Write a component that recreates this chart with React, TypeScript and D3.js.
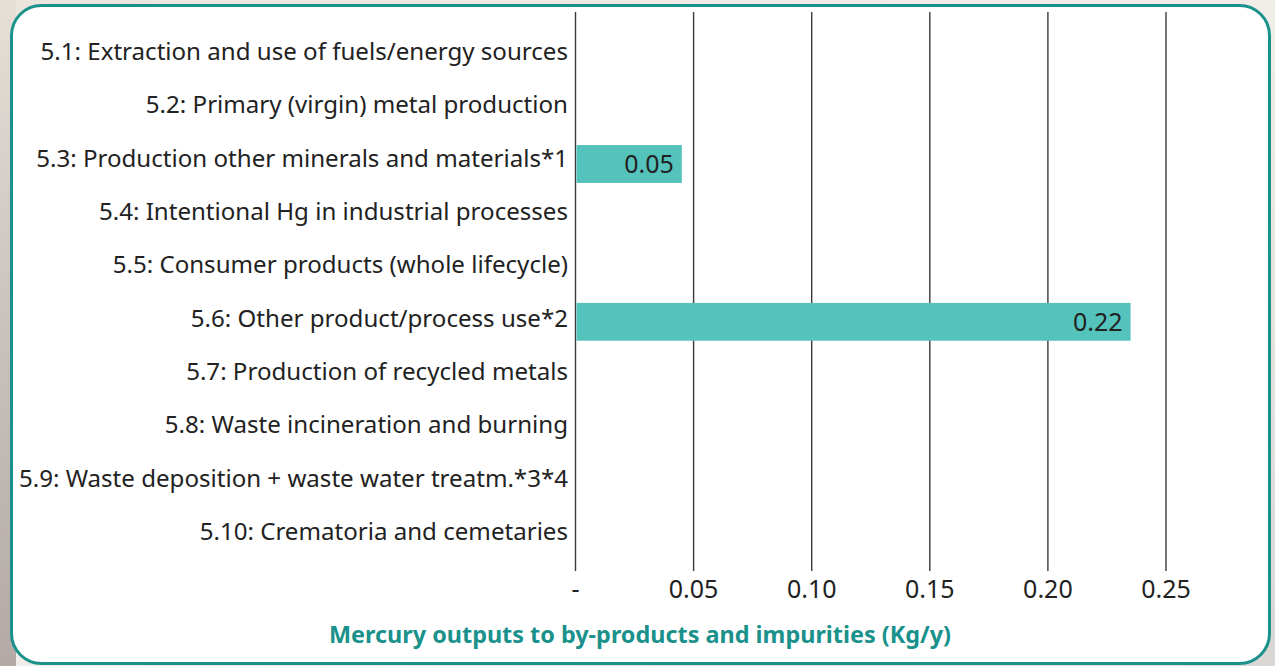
import * as d3 from "d3";

const categories = [
  "5.1: Extraction and use of fuels/energy sources",
  "5.2: Primary (virgin) metal production",
  "5.3: Production other minerals and materials*1",
  "5.4: Intentional Hg in industrial processes",
  "5.5: Consumer products (whole lifecycle)",
  "5.6: Other product/process use*2",
  "5.7: Production of recycled metals",
  "5.8: Waste incineration and burning",
  "5.9: Waste deposition + waste water treatm.*3*4",
  "5.10: Crematoria and cemetaries",
];
const values = [0, 0, 0.045, 0, 0, 0.235, 0, 0, 0, 0];
const valueLabels = ["", "", "0.05", "", "", "0.22", "", "", "", ""];
const ticks = [0, 0.05, 0.1, 0.15, 0.2, 0.25];
const tickLabels = ["-", "0.05", "0.10", "0.15", "0.20", "0.25"];
const axisTitle = "Mercury outputs to by-products and impurities (Kg/y)";

const WIDTH = 1275;
const HEIGHT = 666;
const FONT = "'Noto Sans', 'Open Sans', sans-serif";
const TEAL = "#1a918b";
const BAR = "#53c3bb";
const INK = "#222222";

export default function App() {
  const x = d3.scaleLinear().domain([0, 0.25]).range([575.5, 1166]);
  const y = d3.scaleBand<number>().domain(d3.range(categories.length)).range([32.5, 558.5]).paddingInner(0.28).paddingOuter(0.14);
  const yLabel = d3.scalePoint<number>().domain(d3.range(categories.length)).range([52, 532]);
  const rowCenter = (i: number) => (y(i) ?? 0) + y.bandwidth() / 2;

  return (
    <svg width={WIDTH} height={HEIGHT} viewBox={`0 0 ${WIDTH} ${HEIGHT}`} style={{ position: "absolute", left: 0, top: 0, display: "block" }}>
      <defs>
        <linearGradient id="bg" x1="0" y1="0" x2="1" y2="1">
          <stop offset="0" stopColor="#ebe5de" />
          <stop offset="0.5" stopColor="#f1eeea" />
          <stop offset="1" stopColor="#d9d6d3" />
        </linearGradient>
        <linearGradient id="leftStrip" x1="0" y1="0" x2="0" y2="1">
          <stop offset="0" stopColor="#e6e0d9" />
          <stop offset="0.5" stopColor="#c9c1bb" />
          <stop offset="1" stopColor="#b3aaa5" />
        </linearGradient>
      </defs>
      <rect width={WIDTH} height={HEIGHT} fill="url(#bg)" />
      <rect width={16} height={HEIGHT} fill="url(#leftStrip)" />
      <rect x={11.5} y={5.5} width={1258} height={658} rx={30} ry={30} fill="#ffffff" stroke={TEAL} strokeWidth={3} />

      {ticks.map((t) => (
        <line key={t} x1={x(t)} x2={x(t)} y1={12} y2={571} stroke="#3a3a3a" strokeWidth={1.4} />
      ))}

      {values.map((v, i) =>
        v > 0 ? (
          <g key={i}>
            <rect x={x(0) + 1} y={y(i)} width={x(v) - x(0) - 1} height={y.bandwidth()} fill={BAR} />
            <text x={x(v) - 8} y={rowCenter(i) + 9} textAnchor="end" fontFamily={FONT} fontSize={25} fill={INK}>
              {valueLabels[i]}
            </text>
          </g>
        ) : null
      )}

      {categories.map((c, i) => (
        <text key={c} x={568} y={(yLabel(i) ?? 0) + 8} textAnchor="end" fontFamily={FONT} fontSize={24.1} fill={INK}>
          {c}
        </text>
      ))}

      {ticks.map((t, i) => (
        <text key={t} x={x(t)} y={598} textAnchor="middle" fontFamily={FONT} fontSize={25} fill={INK}>
          {tickLabels[i]}
        </text>
      ))}

      <text x={640} y={643} textAnchor="middle" fontFamily={FONT} fontSize={23.4} fontWeight={700} fill={TEAL}>
        {axisTitle}
      </text>
    </svg>
  );
}
